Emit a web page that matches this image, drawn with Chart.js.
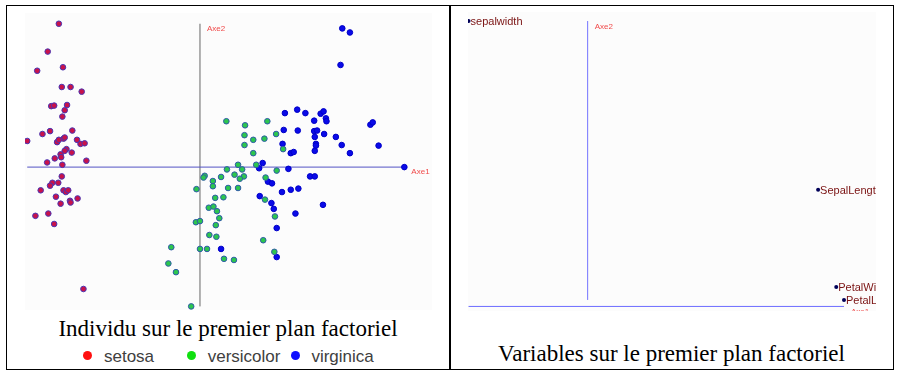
<!DOCTYPE html>
<html><head><meta charset="utf-8">
<script src="https://cdn.jsdelivr.net/npm/chart.js@4/dist/chart.umd.min.js"></script>
<style>
html,body{margin:0;padding:0;background:#fff}
body{width:898px;height:376px;overflow:hidden;position:relative}
.abs{position:absolute}
.title{font-family:"Liberation Serif","Times New Roman",serif;font-size:23px;line-height:23px;color:#000;text-align:center;white-space:nowrap}
.legtxt{position:absolute;top:0;font-family:"Liberation Sans",Arial,sans-serif;font-size:17px;line-height:17px;color:#404040;white-space:nowrap}
.legdot{position:absolute;left:0;top:3.7px;width:9px;height:9px;border-radius:50%}
</style></head><body>
<div class="abs" style="left:6px;top:5px;width:888px;height:365px;border:1px solid #000;box-sizing:border-box"></div>
<div class="abs" style="left:449px;top:5px;width:2px;height:365px;background:#000"></div>
<canvas id="c1" class="abs" style="left:20px;top:8px;width:417px;height:307px" width="417" height="307"></canvas>
<canvas id="c2" class="abs" style="left:464px;top:8px;width:416px;height:307px" width="416" height="307"></canvas>
<div id="t1" class="abs title" style="left:6px;width:444px;top:317.4px"></div>
<div id="t2" class="abs title" style="left:450px;width:443px;top:342.4px"></div>
<div id="legend"></div>
<script>
// ---------- data ----------
const titles = ['Individu sur le premier plan factoriel', 'Variables sur le premier plan factoriel'];
const axisNames = ['Axe1', 'Axe2'];
const speciesNames = ['setosa', 'versicolor', 'virginica'];

const setosaX = [-2.41,-2.60,-2.78,-2.34,-2.36,-2.21,-2.02,-2.54,-2.49,-2.27,-2.31,-2.35,-2.56,-2.18,-2.69,-2.95,-2.44,-2.41,-2.33,-2.31,-2.10,-2.04,-1.97,-2.28,-2.31,-2.19,-2.38,-2.37,-2.48,-2.61,-1.94,-2.35,-2.36,-2.42,-2.52,-2.56,-2.72,-2.33,-2.29,-2.25,-2.46,-2.09,-2.38,-2.22,-2.21,-2.59,-2.81,-2.49,-1.99];
const setosaY = [2.47,1.99,1.66,1.72,1.38,1.38,1.30,1.05,1.06,1.07,0.98,0.87,0.62,0.63,0.57,0.45,0.43,0.47,0.49,0.51,0.47,0.40,0.41,0.31,0.28,0.25,0.22,0.17,0.15,0.08,0.11,0.04,-0.16,-0.27,-0.27,-0.32,-0.40,-0.40,-0.43,-0.40,-0.51,-0.54,-0.63,-0.58,-0.61,-0.80,-0.84,-0.98,-2.10];

const versicolorX = [0.45,0.77,1.15,0.76,1.30,0.91,1.10,0.76,1.42,0.91,0.65,0.96,0.46,0.72,1.31,0.08,0.06,0.59,0.75,0.36,0.68,0.22,0.22,-0.06,0.48,0.65,1.12,0.26,0.40,1.11,0.15,0.23,0.29,0.33,1.28,-0.07,0.00,0.27,0.16,0.28,1.08,-0.49,0.00,0.12,1.27,0.41,0.58,-0.54,-0.41,-0.15];
const versicolorY = [0.79,0.72,0.79,0.55,0.57,0.47,0.49,0.38,0.31,0.24,0.04,0.04,-0.04,-0.04,-0.06,-0.15,-0.18,-0.13,-0.16,-0.17,-0.20,-0.24,-0.33,-0.38,-0.36,-0.36,-0.18,-0.53,-0.52,-0.56,-0.70,-0.68,-0.76,-0.88,-0.85,-0.95,-0.93,-1.00,-1.17,-1.20,-1.26,-1.38,-1.41,-1.41,-1.46,-1.58,-1.60,-1.66,-1.81,-2.40];

const virginicaX = [1.45,1.66,1.80,2.06,2.11,2.15,2.16,1.95,1.43,1.67,1.95,2.00,2.12,1.96,2.32,2.42,1.41,1.98,1.98,1.55,1.60,1.96,2.56,2.91,2.95,3.05,1.07,1.01,1.51,1.88,1.96,1.16,1.23,1.40,1.55,1.68,1.02,1.22,1.26,2.10,1.63,1.31,0.36,1.31,3.49,2.43,2.56,2.40];
const virginicaY = [0.93,0.99,0.93,0.92,0.96,0.84,0.79,0.80,0.64,0.63,0.62,0.63,0.57,0.52,0.52,0.38,0.40,0.40,0.37,0.24,0.26,0.28,0.24,0.73,0.77,0.37,0.07,-0.02,-0.03,-0.16,-0.16,-0.25,-0.28,-0.43,-0.39,-0.37,-0.50,-0.62,-0.72,-0.65,-0.80,-1.05,-1.41,-1.55,0.00,2.39,2.32,1.76];

const varNames = ['sepalwidth', 'SepalLength', 'PetalWidth', 'PetalLength'];
const varAxis1 = [-0.46, 0.89, 0.96, 0.99];
const varAxis2 = [0.88, 0.36, 0.06, 0.02];

// ---------- styles ----------
const pointFill = ['#c8124a', '#2cc64e', '#0a0ae8'];
const pointEdge = ['#4a36b4', '#2f5aa8', '#0000c8'];
const legendColors = ['#ff1010', '#10e010', '#1010ff'];

const toPts = (xs, ys) => xs.map((x, i) => ({x: x, y: ys[i]}));
const allX = setosaX.concat(versicolorX, virginicaX);
const allY = setosaY.concat(versicolorY, virginicaY);
const minX = Math.min(...allX), maxX = Math.max(...allX);
const minY = Math.min(...allY), maxY = Math.max(...allY);

const panelPlugin = {
  id: 'panel',
  beforeDraw(chart, args, o) {
    const {ctx, chartArea: a} = chart;
    ctx.save();
    ctx.fillStyle = o.bg;
    ctx.fillRect(a.left, a.top, a.width, a.height);
    ctx.restore();
  },
  afterDatasetsDraw(chart, args, o) {
    const {ctx, chartArea: a, scales: {x, y}} = chart;
    ctx.save();
    ctx.beginPath(); ctx.rect(a.left, a.top, a.width, a.height); ctx.clip();
    ctx.font = '8px "Liberation Sans", Arial, sans-serif';
    ctx.fillStyle = '#f04a4a';
    ctx.textBaseline = 'middle';
    ctx.textAlign = 'left';
    ctx.fillText(axisNames[0], x.getPixelForValue(o.xEnd) + 7, y.getPixelForValue(0) + 5);
    ctx.fillText(axisNames[1], x.getPixelForValue(0) + 7, y.getPixelForValue(o.yEnd) + 5.5);
    if (o.labels) {
      ctx.font = '11px "Liberation Sans", Arial, sans-serif';
      ctx.fillStyle = '#7a1212';
      ctx.textBaseline = 'alphabetic';
      o.labels.forEach((t, i) => {
        ctx.fillText(t, x.getPixelForValue(o.lx[i]) + 2, y.getPixelForValue(o.ly[i]) + 4);
      });
    }
    ctx.restore();
  }
};

function baseOptions(xr, yr, panelOpts) {
  return {
    responsive: false, animation: false, events: [],
    layout: {padding: 0},
    scales: {
      x: {type: 'linear', display: false, min: xr[0], max: xr[1]},
      y: {type: 'linear', display: false, min: yr[0], max: yr[1]}
    },
    plugins: {legend: {display: false}, tooltip: {enabled: false}, panel: panelOpts}
  };
}

// ---------- left chart ----------
const speciesX = [setosaX, versicolorX, virginicaX];
const speciesY = [setosaY, versicolorY, virginicaY];
const leftSets = speciesNames.map((n, i) => ({
  label: n, data: toPts(speciesX[i], speciesY[i]),
  backgroundColor: pointFill[i], borderColor: pointEdge[i], borderWidth: 1,
  pointRadius: 2.8, order: 1 + i
}));
leftSets.push({label: 'h', data: [{x: minX, y: 0}, {x: maxX, y: 0}], showLine: true, pointRadius: 0, borderColor: '#5252c4', borderWidth: 1, order: 10});
leftSets.push({label: 'v', data: [{x: 0, y: minY}, {x: 0, y: maxY}], showLine: true, pointRadius: 0, borderColor: '#666666', borderWidth: 1, order: 10});

new Chart(document.getElementById('c1'), {
  type: 'scatter',
  data: {datasets: leftSets},
  options: baseOptions([-2.988, 3.962], [-2.462, 2.655], {bg: '#fcfcfc', xEnd: maxX, yEnd: maxY}),
  plugins: [panelPlugin]
});

// ---------- right chart ----------
const vMinX = Math.min(...varAxis1), vMaxX = Math.max(...varAxis1);
const vMinY = Math.min(...varAxis2), vMaxY = Math.max(...varAxis2);
new Chart(document.getElementById('c2'), {
  type: 'scatter',
  data: {datasets: [
    {label: 'variables', data: toPts(varAxis1, varAxis2), backgroundColor: '#000058', borderWidth: 0, pointRadius: 2, order: 1},
    {label: 'h', data: [{x: vMinX, y: 0}, {x: vMaxX, y: 0}], showLine: true, pointRadius: 0, borderColor: '#6c6cff', borderWidth: 1, order: 10},
    {label: 'v', data: [{x: 0, y: vMinY}, {x: 0, y: vMaxY}], showLine: true, pointRadius: 0, borderColor: '#7474ff', borderWidth: 1, order: 10}
  ]},
  options: baseOptions([-0.4621, 1.1136], [-0.0141, 0.9078], {bg: '#fcfcfc', xEnd: vMaxX, yEnd: vMaxY, labels: varNames, lx: varAxis1, ly: varAxis2}),
  plugins: [panelPlugin]
});

// ---------- titles & legend ----------
document.getElementById('t1').textContent = titles[0];
document.getElementById('t2').textContent = titles[1];
const leg = document.getElementById('legend');
speciesNames.forEach((n, i) => {
  const item = document.createElement('div');
  item.className = 'abs';
  item.style.left = (83.3 + i * 103.7) + 'px';
  item.style.top = '347.6px';
  item.style.height = '17px';
  const d = document.createElement('div');
  d.className = 'legdot';
  d.style.background = legendColors[i];
  const t = document.createElement('div');
  t.className = 'legtxt';
  t.style.left = '20.7px';
  t.textContent = n;
  item.appendChild(d); item.appendChild(t);
  leg.appendChild(item);
});
</script>
</body></html>
